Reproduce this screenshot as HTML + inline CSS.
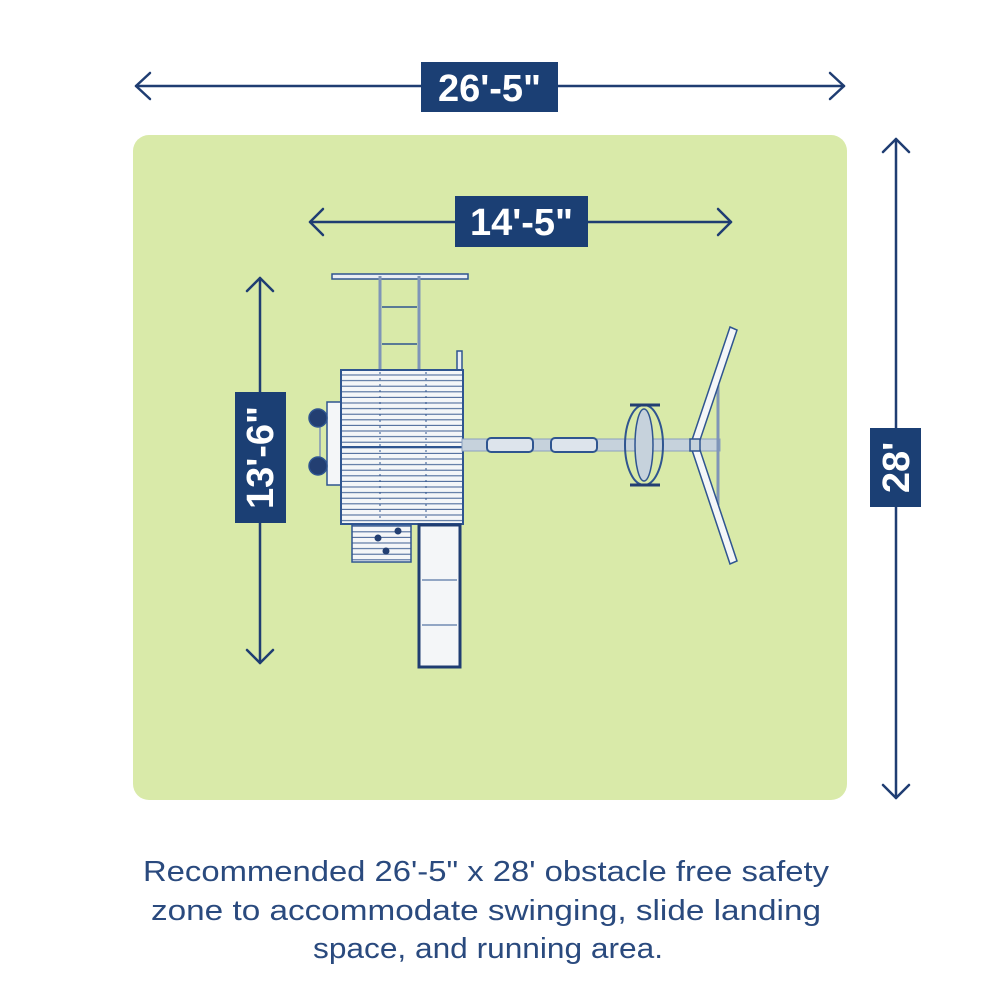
<!DOCTYPE html>
<html><head><meta charset="utf-8"><style>
html,body{margin:0;padding:0;background:#fff;}
svg{display:block;}
</style></head><body>
<svg width="1000" height="1000" viewBox="0 0 1000 1000" xmlns="http://www.w3.org/2000/svg">
<defs>
<pattern id="plank" x="0" y="370" width="10" height="5.6" patternUnits="userSpaceOnUse">
<rect width="10" height="5.6" fill="#f4f6f8"/>
<line x1="0" y1="5" x2="10" y2="5" stroke="#3f5f93" stroke-width="1"/>
</pattern>
</defs>
<rect x="133" y="135" width="714" height="665" rx="16" fill="#d9eaa9"/>
<g stroke="#1f3d72" stroke-width="2.5" fill="none" stroke-linecap="round" stroke-linejoin="round">
<line x1="136" y1="86" x2="844" y2="86"/>
<polyline points="150,73 136,86 150,99"/>
<polyline points="830,73 844,86 830,99"/>
<line x1="310" y1="222" x2="731" y2="222"/>
<polyline points="323,209 310,222 323,235"/>
<polyline points="718,209 731,222 718,235"/>
<line x1="260" y1="278" x2="260" y2="663"/>
<polyline points="247,291 260,278 273,291"/>
<polyline points="247,650 260,663 273,650"/>
<line x1="896" y1="139" x2="896" y2="798"/>
<polyline points="883,152 896,139 909,152"/>
<polyline points="883,785 896,798 909,785"/>
</g>
<g fill="#1b3f74">
<rect x="421" y="62" width="137" height="50"/>
<rect x="455" y="196" width="133" height="51"/>
<rect x="235" y="392" width="51" height="131"/>
<rect x="870" y="428" width="51" height="79"/>
</g>
<g fill="#fff" font-family="'Liberation Sans',sans-serif" font-weight="bold" font-size="38" text-anchor="middle">
<text x="489.5" y="101">26'-5"</text>
<text x="521.5" y="235">14'-5"</text>
<text transform="translate(273,457.5) rotate(-90)">13'-6"</text>
<text transform="translate(909,467.5) rotate(-90)">28'</text>
</g>
<g stroke="#2f5590" stroke-width="1.5">
<rect x="332" y="274" width="136" height="5" fill="#e9eef4"/>
<line x1="380" y1="276" x2="380" y2="370" stroke-width="3" stroke="#7f95b8"/>
<line x1="419" y1="276" x2="419" y2="370" stroke-width="3" stroke="#7f95b8"/>
<line x1="382" y1="307" x2="417" y2="307"/>
<line x1="382" y1="344" x2="417" y2="344"/>
<rect x="457" y="351" width="5" height="20" fill="#e9eef4"/>
<rect x="327" y="402" width="14" height="83" fill="#f4f6f8"/>
<line x1="320" y1="425" x2="320" y2="460" stroke="#7f95b8"/>
<circle cx="318" cy="418" r="9" fill="#233f72"/>
<circle cx="318" cy="466" r="9" fill="#233f72"/>
<rect x="341" y="370" width="122" height="154" fill="url(#plank)" stroke-width="2"/>
<line x1="341" y1="447" x2="463" y2="447" stroke-width="2"/>
<line x1="380" y1="372" x2="380" y2="522" stroke-dasharray="2 4" stroke-width="1"/>
<line x1="426" y1="372" x2="426" y2="522" stroke-dasharray="2 4" stroke-width="1"/>
<rect x="352" y="525" width="59" height="37" fill="url(#plank)"/>
<circle cx="378" cy="538" r="3.5" fill="#233f72" stroke="none"/>
<circle cx="398" cy="531" r="3.5" fill="#233f72" stroke="none"/>
<circle cx="386" cy="551" r="3.5" fill="#233f72" stroke="none"/>
<rect x="419" y="525" width="41" height="142" fill="#f4f6f8" stroke="#1f3d72" stroke-width="3"/>
<line x1="422" y1="580" x2="457" y2="580" stroke-width="1"/>
<line x1="422" y1="625" x2="457" y2="625" stroke-width="1"/>
<rect x="462" y="439" width="258" height="12" fill="#c6d2dc" stroke="#8aa0bf" stroke-width="1"/>
<rect x="487" y="438" width="46" height="14" rx="4" fill="#dde4ec" stroke="#2f5590" stroke-width="2"/>
<rect x="551" y="438" width="46" height="14" rx="4" fill="#dde4ec" stroke="#2f5590" stroke-width="2"/>
<ellipse cx="644" cy="445" rx="19" ry="40" fill="none" stroke="#2f5590" stroke-width="2"/>
<ellipse cx="644" cy="445" rx="9" ry="36" fill="#c6d2dc" stroke="#2f5590" stroke-width="1.5"/>
<line x1="630" y1="405" x2="660" y2="405" stroke="#233f72" stroke-width="3"/>
<line x1="630" y1="485" x2="660" y2="485" stroke="#233f72" stroke-width="3"/>
<line x1="718" y1="385" x2="718" y2="505" stroke="#7f95b8" stroke-width="3"/>
<polygon points="730,327 737,330 698,446 691,443" fill="#f4f6f8"/>
<polygon points="691,447 698,444 737,561 730,564" fill="#f4f6f8"/>
<rect x="690" y="439" width="10" height="12" fill="#c6d2dc"/>
</g>
<g fill="#2a4a7e" font-family="'Liberation Sans',sans-serif" font-size="29" text-anchor="middle">
<text x="486" y="881" textLength="686" lengthAdjust="spacingAndGlyphs">Recommended 26'-5" x 28' obstacle free safety</text>
<text x="486" y="920" textLength="670" lengthAdjust="spacingAndGlyphs">zone to accommodate swinging, slide landing</text>
<text x="488" y="958" textLength="350" lengthAdjust="spacingAndGlyphs">space, and running area.</text>
</g>
</svg>
</body></html>
